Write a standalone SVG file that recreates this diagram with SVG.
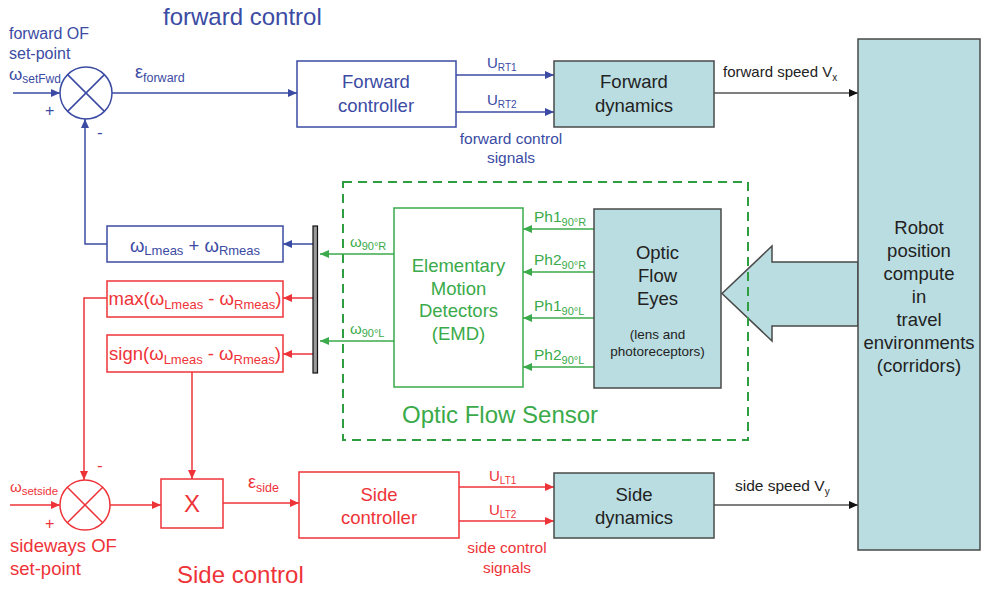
<svg xmlns="http://www.w3.org/2000/svg" width="983" height="589" viewBox="0 0 983 589">
  <defs>
    <style>
      text { font-family: "Liberation Sans", Arial, sans-serif; }
      .blue { fill: #3b4ba3; }
      .red { fill: #ee3338; }
      .green { fill: #3aaa4a; }
      .dark { fill: #222; }
      .bbox { fill: #fff; stroke: #3b4ba3; stroke-width: 1.5; }
      .rbox { fill: #fff; stroke: #ee3338; stroke-width: 1.5; }
      .gbox { fill: #fff; stroke: #3aaa4a; stroke-width: 1.5; }
      .tbox { fill: #b9dde1; stroke: #4a4a4a; stroke-width: 1.5; }
      .bl { fill: none; stroke: #3b4ba3; stroke-width: 1.5; }
      .rl { fill: none; stroke: #ee3338; stroke-width: 1.5; }
      .gl { fill: none; stroke: #3aaa4a; stroke-width: 1.5; }
      .kl { fill: none; stroke: #555; stroke-width: 1.5; }
      .ab { marker-end: url(#arrB); }
      .ar { marker-end: url(#arrR); }
      .ag { marker-end: url(#arrG); }
      .ak { marker-end: url(#arrK); }
      .t18 { font-size: 18.5px; }
      .title { font-size: 24px; }
    </style>
    <marker id="arrB" markerUnits="userSpaceOnUse" markerWidth="9" markerHeight="8" refX="9" refY="4" orient="auto">
      <path d="M0,0 L9,4 L0,8 z" fill="#3b4ba3"/>
    </marker>
    <marker id="arrR" markerUnits="userSpaceOnUse" markerWidth="9" markerHeight="8" refX="9" refY="4" orient="auto">
      <path d="M0,0 L9,4 L0,8 z" fill="#ee3338"/>
    </marker>
    <marker id="arrG" markerUnits="userSpaceOnUse" markerWidth="9" markerHeight="8" refX="9" refY="4" orient="auto">
      <path d="M0,0 L9,4 L0,8 z" fill="#3aaa4a"/>
    </marker>
    <marker id="arrK" markerUnits="userSpaceOnUse" markerWidth="9" markerHeight="8" refX="9" refY="4" orient="auto">
      <path d="M0,0 L9,4 L0,8 z" fill="#111"/>
    </marker>
  </defs>

  <rect x="0" y="0" width="983" height="589" fill="#fff"/>

  <!-- section titles and free labels -->
  <g id="labels">
    <text class="blue title" x="163" y="25">forward control</text>
    <text class="blue" x="9" y="39" font-size="16">forward OF</text>
    <text class="blue" x="9" y="59" font-size="16">set-point</text>
    <text class="blue" x="9" y="80" font-size="17">ω<tspan font-size="12" dy="3">setFwd</tspan></text>
    <text class="blue" x="45" y="116" font-size="16">+</text>
    <text class="blue" x="97" y="138" font-size="17">-</text>
    <text class="blue" x="135" y="78" font-size="18">ε<tspan font-size="12.5" dy="4">forward</tspan></text>

    <text class="blue" x="487" y="68" font-size="15">U<tspan font-size="10" dy="3">RT1</tspan></text>
    <text class="blue" x="487" y="105" font-size="15">U<tspan font-size="10" dy="3">RT2</tspan></text>
    <text class="blue" x="511" y="144" font-size="15.5" text-anchor="middle">forward control</text>
    <text class="blue" x="511" y="163" font-size="15.5" text-anchor="middle">signals</text>

    <text class="dark" x="723" y="77" font-size="15">forward speed V<tspan font-size="10" dy="4">x</tspan></text>
    <text class="dark" x="735" y="491" font-size="15.5">side speed V<tspan font-size="10" dy="4">y</tspan></text>

    <text class="green" x="350" y="247" font-size="15">ω<tspan font-size="11" dy="3">90°R</tspan></text>
    <text class="green" x="350" y="334" font-size="15">ω<tspan font-size="11" dy="3">90°L</tspan></text>
    <text class="green" x="534" y="222" font-size="15.5">Ph1<tspan font-size="11" dy="4">90°R</tspan></text>
    <text class="green" x="534" y="265" font-size="15.5">Ph2<tspan font-size="11" dy="4">90°R</tspan></text>
    <text class="green" x="534" y="311" font-size="15.5">Ph1<tspan font-size="11" dy="4">90°L</tspan></text>
    <text class="green" x="534" y="360" font-size="15.5">Ph2<tspan font-size="11" dy="4">90°L</tspan></text>
    <text class="green title" x="402" y="423">Optic Flow Sensor</text>

    <text class="red" x="10" y="492" font-size="15">ω<tspan font-size="11.5" dy="3">setside</tspan></text>
    <text class="red" x="45" y="529" font-size="16">+</text>
    <text class="red" x="97" y="471" font-size="17">-</text>
    <text class="red" x="10" y="552" font-size="18.5">sideways OF</text>
    <text class="red" x="10" y="575" font-size="18.5">set-point</text>
    <text class="red" x="248" y="488" font-size="18">ε<tspan font-size="12.5" dy="4">side</tspan></text>
    <text class="red title" x="177" y="583">Side control</text>

    <text class="red" x="489" y="481" font-size="15">U<tspan font-size="10" dy="3">LT1</tspan></text>
    <text class="red" x="489" y="515" font-size="15">U<tspan font-size="10" dy="3">LT2</tspan></text>
    <text class="red" x="507" y="553" font-size="15.5" text-anchor="middle">side control</text>
    <text class="red" x="507" y="573" font-size="15.5" text-anchor="middle">signals</text>
  </g>

  <!-- environment feedback arrow (drawn under the sensor frame) -->
  <g id="env-arrow">
    <polygon points="858,262 772,262 772,246 722,293.5 772,341 772,326 858,326" fill="#b9dde1" stroke="#4a4a4a" stroke-width="1.5"/>
  </g>

  <!-- optic flow sensor frame -->
  <g id="sensor-frame">
    <rect x="343" y="182" width="405" height="258" fill="none" stroke="#2e9e40" stroke-width="2" stroke-dasharray="9 6"/>
  </g>

  <!-- connectors -->
  <g id="connectors">
    <!-- forward loop -->
    <line class="bl ab" x1="13" y1="93" x2="60" y2="93"/>
    <line class="bl ab" x1="112" y1="93" x2="297" y2="93"/>
    <line class="bl ab" x1="456" y1="75" x2="554" y2="75"/>
    <line class="bl ab" x1="456" y1="112" x2="554" y2="112"/>
    <line class="kl ak" x1="714" y1="93" x2="858" y2="93"/>
    <polyline class="bl ab" points="107,244 85,244 85,119"/>
    <line class="bl ab" x1="313" y1="244" x2="283" y2="244"/>

    <!-- side loop -->
    <line class="rl ar" x1="313" y1="298" x2="283" y2="298"/>
    <line class="rl ar" x1="313" y1="354" x2="283" y2="354"/>
    <polyline class="rl ar" points="107,298 84,298 84,480"/>
    <polyline class="rl ar" points="192,372 192,479"/>
    <line class="rl ar" x1="10" y1="505" x2="60" y2="505"/>
    <line class="rl ar" x1="110" y1="505" x2="161" y2="505"/>
    <line class="rl ar" x1="223" y1="503" x2="299" y2="503"/>
    <line class="rl ar" x1="459" y1="487" x2="554" y2="487"/>
    <line class="rl ar" x1="459" y1="521" x2="554" y2="521"/>
    <line class="kl ak" x1="714" y1="505" x2="858" y2="505"/>

    <!-- sensor signals -->
    <line class="gl ag" x1="394" y1="254" x2="320" y2="254"/>
    <line class="gl ag" x1="394" y1="341" x2="320" y2="341"/>
    <line class="gl ag" x1="594" y1="229" x2="523" y2="229"/>
    <line class="gl ag" x1="594" y1="272" x2="523" y2="272"/>
    <line class="gl ag" x1="594" y1="318" x2="523" y2="318"/>
    <line class="gl ag" x1="594" y1="367" x2="523" y2="367"/>
  </g>

  <!-- signal bus bar -->
  <g id="bus">
    <rect x="313" y="226" width="4.5" height="147" fill="#9a9a9a" stroke="#111" stroke-width="1.2"/>
  </g>

  <!-- forward comparator -->
  <g id="sum-forward">
    <circle cx="86" cy="93" r="26" fill="#fff" stroke="#3b4ba3" stroke-width="1.5"/>
    <path d="M67.6,74.6 L104.4,111.4 M104.4,74.6 L67.6,111.4" stroke="#3b4ba3" stroke-width="1.5"/>
  </g>

  <g id="forward-controller">
    <rect class="bbox" x="297" y="61" width="159" height="66"/>
    <text class="blue t18" x="376" y="88" text-anchor="middle">Forward</text>
    <text class="blue t18" x="376" y="112" text-anchor="middle">controller</text>
  </g>

  <g id="forward-dynamics">
    <rect class="tbox" x="554" y="61" width="160" height="66"/>
    <text class="dark t18" x="634" y="88" text-anchor="middle">Forward</text>
    <text class="dark t18" x="634" y="112" text-anchor="middle">dynamics</text>
  </g>

  <g id="sum-measure">
    <rect class="bbox" x="107" y="226" width="176" height="36"/>
    <text class="blue" x="195" y="252" font-size="18.5" text-anchor="middle">ω<tspan font-size="13" dy="3">Lmeas</tspan><tspan dy="-3"> + ω</tspan><tspan font-size="13" dy="3">Rmeas</tspan></text>
  </g>

  <g id="max-measure">
    <rect class="rbox" x="107" y="281" width="176" height="36"/>
    <text class="red" x="195" y="305" font-size="18.5" text-anchor="middle">max(ω<tspan font-size="13" dy="4">Lmeas</tspan><tspan dy="-4"> - ω</tspan><tspan font-size="13" dy="4">Rmeas</tspan><tspan dy="-4">)</tspan></text>
  </g>

  <g id="sign-measure">
    <rect class="rbox" x="107" y="335" width="176" height="37"/>
    <text class="red" x="195" y="360" font-size="18.5" text-anchor="middle">sign(ω<tspan font-size="13" dy="4">Lmeas</tspan><tspan dy="-4"> - ω</tspan><tspan font-size="13" dy="4">Rmeas</tspan><tspan dy="-4">)</tspan></text>
  </g>

  <g id="emd">
    <rect class="gbox" x="394" y="208" width="129" height="179"/>
    <text class="green t18" x="458.5" y="272" text-anchor="middle">Elementary</text>
    <text class="green t18" x="458.5" y="294.5" text-anchor="middle">Motion</text>
    <text class="green t18" x="458.5" y="317" text-anchor="middle">Detectors</text>
    <text class="green t18" x="458.5" y="340" text-anchor="middle">(EMD)</text>
  </g>

  <g id="optic-flow-eyes">
    <rect class="tbox" x="594" y="209" width="127" height="179"/>
    <text class="dark t18" x="657.5" y="259" text-anchor="middle">Optic</text>
    <text class="dark t18" x="657.5" y="282" text-anchor="middle">Flow</text>
    <text class="dark t18" x="657.5" y="305" text-anchor="middle">Eyes</text>
    <text class="dark" x="657.5" y="339" font-size="13.5" text-anchor="middle">(lens and</text>
    <text class="dark" x="657.5" y="355.5" font-size="13.5" text-anchor="middle">photoreceptors)</text>
  </g>

  <g id="robot">
    <rect class="tbox" x="858" y="39" width="122" height="511"/>
    <text class="dark t18" x="919" y="234" text-anchor="middle">Robot</text>
    <text class="dark t18" x="919" y="257" text-anchor="middle">position</text>
    <text class="dark t18" x="919" y="280" text-anchor="middle">compute</text>
    <text class="dark t18" x="919" y="303" text-anchor="middle">in</text>
    <text class="dark t18" x="919" y="326" text-anchor="middle">travel</text>
    <text class="dark t18" x="919" y="349" text-anchor="middle">environments</text>
    <text class="dark t18" x="919" y="372" text-anchor="middle">(corridors)</text>
  </g>

  <!-- side comparator -->
  <g id="sum-side">
    <circle cx="85" cy="505" r="25" fill="#fff" stroke="#ee3338" stroke-width="1.5"/>
    <path d="M67.3,487.3 L102.7,522.7 M102.7,487.3 L67.3,522.7" stroke="#ee3338" stroke-width="1.5"/>
  </g>

  <g id="multiplier">
    <rect class="rbox" x="161" y="479" width="62" height="49"/>
    <text class="red" x="192" y="512" font-size="24" text-anchor="middle">X</text>
  </g>

  <g id="side-controller">
    <rect class="rbox" x="299" y="472" width="160" height="66"/>
    <text class="red t18" x="379" y="501" text-anchor="middle">Side</text>
    <text class="red t18" x="379" y="524" text-anchor="middle">controller</text>
  </g>

  <g id="side-dynamics">
    <rect class="tbox" x="554" y="473" width="160" height="65"/>
    <text class="dark t18" x="634" y="501" text-anchor="middle">Side</text>
    <text class="dark t18" x="634" y="524" text-anchor="middle">dynamics</text>
  </g>
</svg>
